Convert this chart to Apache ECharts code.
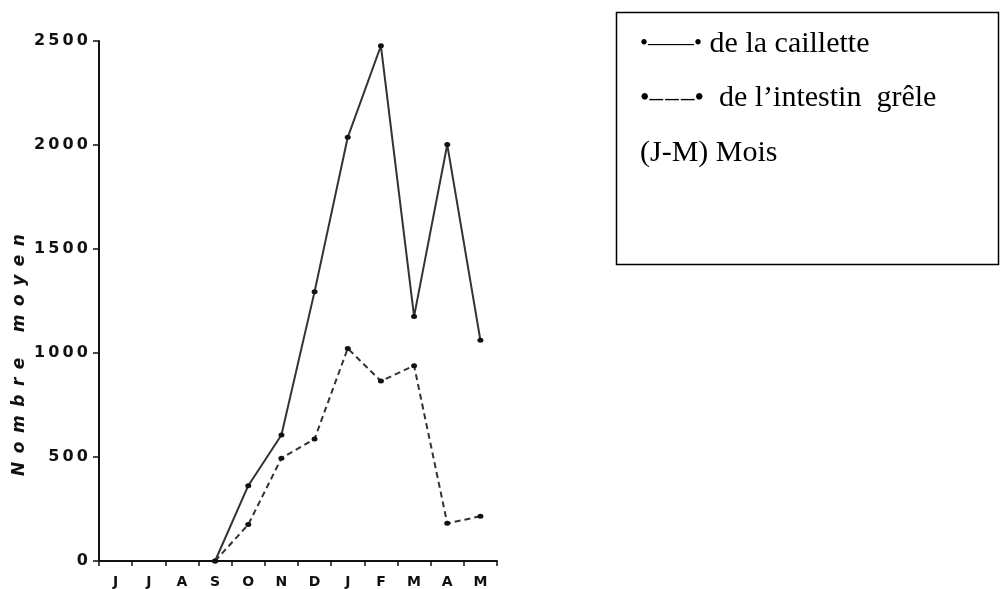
<!DOCTYPE html>
<html>
<head>
<meta charset="utf-8">
<title>Nombre moyen par mois</title>
<script src="https://cdn.jsdelivr.net/npm/echarts@6/dist/echarts.min.js"></script>
<style>
  html, body { margin: 0; padding: 0; background: #fff; }
  #chart { width: 1001px; height: 589px; }
</style>
</head>
<body>
<div id="chart"></div>
<script>
// Months, June to May
const months = ['J', 'J', 'A', 'S', 'O', 'N', 'D', 'J', 'F', 'M', 'A', 'M'];

// Mean count, abomasum (solid line)
const caillette = [null, null, null, 0, 362, 606, 1295, 2037, 2477, 1176, 2002, 1061];

// Mean count, small intestine (dashed line)
const intestinGrele = [null, null, null, 0, 175, 494, 587, 1022, 865, 939, 181, 215];

// Value-axis tick labels, one per 500 step
const yTickLabels = ['0', '500', '1000', '1500', '2000', '2500'];

// Axis title, letter-spaced with en spaces
const yAxisTitle = ['Nombre', 'moyen']
  .map(w => w.split('').join('\u2002'))
  .join('\u2002\u2002\u2002');

const legendLines = [
  { mark: '•——•', markSize: 23, text: ' de la caillette' },
  { mark: '•–\u200A–\u200A–•', markSize: 27, text: '  de l’intestin  grêle' },
  { mark: '', markSize: 28, text: '(J-M) Mois' }
];

const chart = echarts.init(document.getElementById('chart'), null, { renderer: 'canvas' });

const lineColor = '#333';
const inkColor = '#111';

const legendGraphics = legendLines.map((l, i) => ({
  type: 'text',
  left: 640,
  top: 29 + i * 54.5,
  style: {
    text: (l.mark ? '{m|' + l.mark + '}' : '') + '{t|' + l.text + '}',
    rich: {
      m: { fontFamily: 'Liberation Serif', fontSize: l.markSize, fill: '#000' },
      t: { fontFamily: 'Liberation Serif', fontSize: 30, fill: '#000' }
    }
  }
}));

chart.setOption({
  animation: false,
  backgroundColor: '#fff',
  grid: { left: 99, top: 41, width: 398, height: 520, containLabel: false },
  xAxis: {
    type: 'category',
    data: months,
    boundaryGap: true,
    axisLine: { show: true, lineStyle: { color: inkColor, width: 2 } },
    axisTick: { show: true, length: 5, lineStyle: { color: inkColor, width: 1.5 } },
    axisLabel: {
      interval: 0,
      margin: 14,
      color: inkColor,
      fontFamily: 'DejaVu Sans',
      fontWeight: 'bold',
      fontSize: 14
    },
    splitLine: { show: false }
  },
  yAxis: {
    type: 'value',
    min: 0,
    max: 2500,
    interval: 500,
    axisLine: { show: true, lineStyle: { color: inkColor, width: 2 } },
    axisTick: { show: true, length: 6, lineStyle: { color: inkColor, width: 1.5 } },
    axisLabel: {
      margin: 11,
      color: inkColor,
      fontFamily: 'DejaVu Sans',
      fontWeight: 'bold',
      fontSize: 16,
      formatter: v => yTickLabels[Math.round(v / 500)].split('').join('\u2009')
    },
    splitLine: { show: false }
  },
  series: [
    {
      name: 'de la caillette',
      type: 'line',
      data: caillette,
      connectNulls: false,
      symbol: 'circle',
      symbolSize: [6, 5],
      itemStyle: { color: inkColor },
      lineStyle: { color: lineColor, width: 2, type: 'solid' },
      z: 3
    },
    {
      name: 'de l’intestin grêle',
      type: 'line',
      data: intestinGrele,
      connectNulls: false,
      symbol: 'circle',
      symbolSize: [6, 5],
      itemStyle: { color: inkColor },
      lineStyle: { color: lineColor, width: 2, type: [6, 4] },
      z: 2
    }
  ],
  graphic: [
    {
      type: 'text',
      x: 20,
      y: 355,
      rotation: Math.PI / 2,
      style: {
        text: yAxisTitle,
        fontFamily: 'DejaVu Sans',
        fontStyle: 'italic',
        fontWeight: 'bold',
        fontSize: 17,
        fill: inkColor,
        textAlign: 'center',
        textVerticalAlign: 'middle'
      }
    },
    {
      type: 'rect',
      shape: { x: 616.5, y: 12.5, width: 382, height: 252 },
      style: { fill: 'none', stroke: '#000', lineWidth: 1.5 }
    }
  ].concat(legendGraphics)
});
</script>
</body>
</html>
